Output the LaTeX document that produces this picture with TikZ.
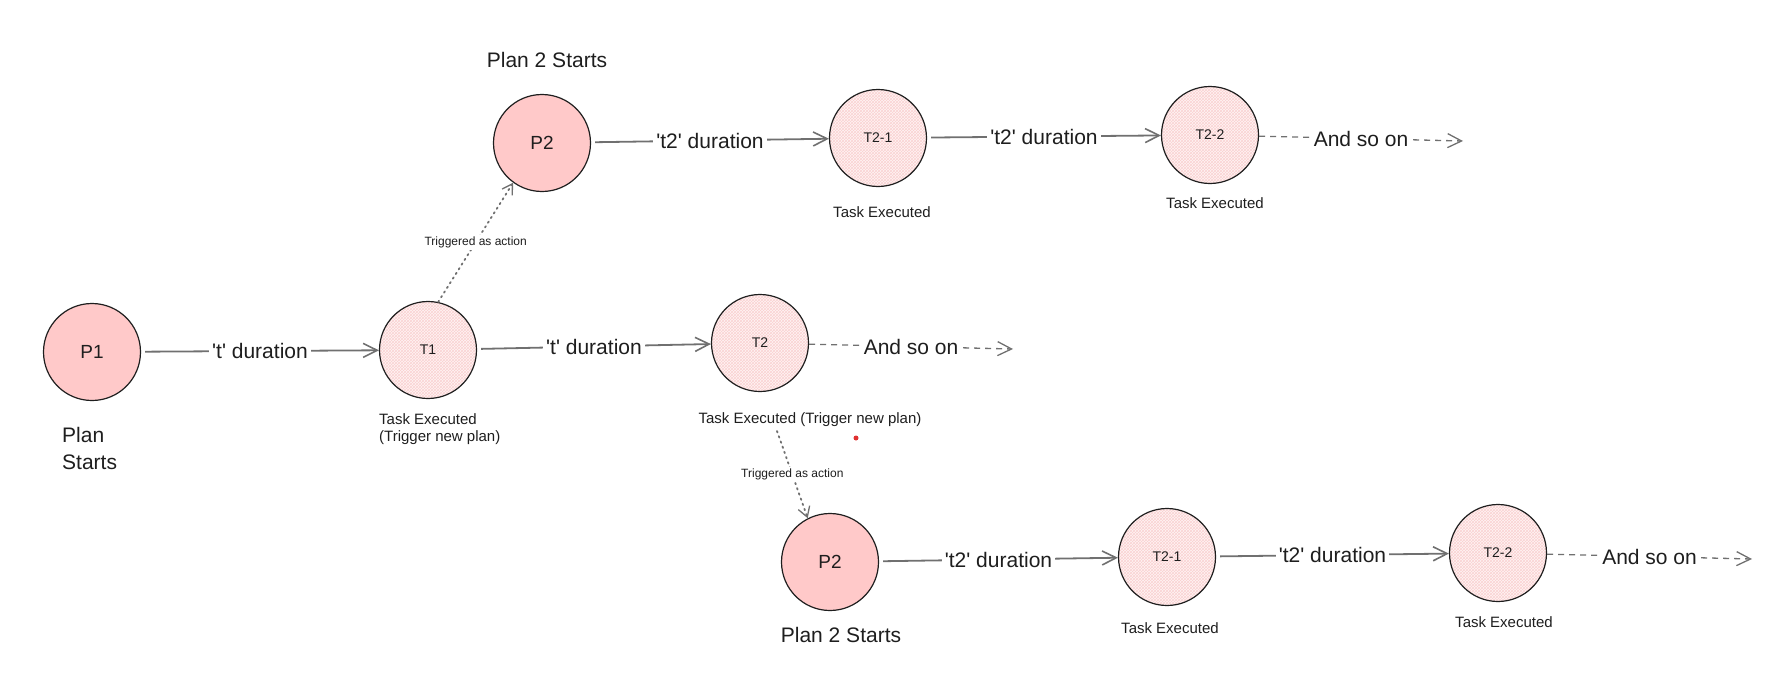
\documentclass[tikz,border=0pt]{standalone}
\usepackage{fontspec}
\setmainfont{Liberation Sans}
\usetikzlibrary{arrows.meta,patterns}
\definecolor{pfill}{HTML}{FFC9C9}
\definecolor{tfill}{HTML}{FFF4F4}
\definecolor{thatch}{HTML}{FAD2D2}
\definecolor{ink}{HTML}{1E1E1E}
\definecolor{arr}{HTML}{707070}
\definecolor{reddot}{HTML}{E03131}
\newcommand{\qq}{\textquotesingle}
\begin{document}
\begin{tikzpicture}[x=1pt,y=-1pt,
  pnode/.style={circle, draw=ink, line width=1.2pt, fill=pfill, minimum size=97pt, inner sep=0pt, font=\fontsize{19}{22}\selectfont, text=ink},
  tnode/.style={circle, draw=ink, line width=1.2pt, preaction={fill=tfill}, pattern=crosshatch, pattern color=thatch, minimum size=97pt, inner sep=0pt, font=\fontsize{14}{16}\selectfont, text=ink},
  conn/.style={draw=arr, line width=1.8pt, -{Straight Barb[length=14pt,width=14pt,line width=1.6pt]}, shorten <=4pt},
  dashconn/.style={draw=arr, line width=1.3pt, dash pattern=on 6pt off 5pt, -{Straight Barb[length=14pt,width=14pt,line width=1.3pt]}},
  dotconn/.style={draw=arr, line width=1.8pt, dash pattern=on 1.5pt off 4pt, line cap=round, -{Straight Barb[length=10pt,width=12pt,line width=1.3pt]}},
  lab/.style={fill=white, inner sep=3pt, font=\fontsize{21}{24}\selectfont, text=ink},
  smalllab/.style={fill=white, inner sep=2pt, font=\fontsize{12}{14}\selectfont, text=ink},
  caption/.style={font=\fontsize{15}{17}\selectfont, text=ink, inner sep=0pt},
  bigcaption/.style={font=\fontsize{21}{27}\selectfont, text=ink, inner sep=0pt},
]
\useasboundingbox (0,0) rectangle (1777,696);
% nodes
\node[pnode] (P1) at (92,352) {P1};
\node[tnode] (T1) at (428,350) {T1};
\node[tnode] (T2) at (760,343) {T2};
\node[pnode] (P2t) at (542,143) {P2};
\node[tnode] (T21t) at (878,138) {T2-1};
\node[tnode] (T22t) at (1210,135) {T2-2};
\node[pnode] (P2b) at (830,562) {P2};
\node[tnode] (T21b) at (1167,557) {T2-1};
\node[tnode] (T22b) at (1498,553) {T2-2};
% captions
\node[bigcaption, align=left, anchor=west] (cP1) at (62,448) {Plan\\Starts};
\node[caption, align=left, anchor=west] (cT1) at (379,429) {Task Executed\\(Trigger new plan)};
\node[caption] (cT2) at (810,420) {Task Executed (Trigger new plan)};
\node[bigcaption] (cP2t) at (547,60) {Plan 2 Starts};
\node[caption] (cT21t) at (882,212) {Task Executed};
\node[caption] (cT22t) at (1215,203) {Task Executed};
\node[bigcaption] (cP2b) at (841,635) {Plan 2 Starts};
\node[caption] (cT21b) at (1170,628) {Task Executed};
\node[caption] (cT22b) at (1504,622) {Task Executed};
% free ends
\coordinate (e1) at (1013,349);
\coordinate (e2) at (1463,141);
\coordinate (e3) at (1752,559);
\coordinate (d2s) at (777,431);
% connectors
\draw[conn] (P1) -- node[lab] {\qq t\qq{} duration} (T1);
\draw[conn] (T1) -- node[lab] {\qq t\qq{} duration} (T2);
\draw[conn] (P2t) -- node[lab] {\qq t2\qq{} duration} (T21t);
\draw[conn] (T21t) -- node[lab] {\qq t2\qq{} duration} (T22t);
\draw[conn] (P2b) -- node[lab] {\qq t2\qq{} duration} (T21b);
\draw[conn] (T21b) -- node[lab] {\qq t2\qq{} duration} (T22b);
\draw[dashconn] (T2) -- node[lab] {And so on} (e1);
\draw[dashconn] (T22t) -- node[lab] {And so on} (e2);
\draw[dashconn] (T22b) -- node[lab] {And so on} (e3);
\draw[dotconn] (T1.78) -- node[smalllab] {Triggered as action} (P2t.234);
\draw[dotconn] (d2s) -- node[smalllab] {Triggered as action} (P2b.117);
% stray dot
\fill[reddot] (856,438) circle (2.5pt);
\end{tikzpicture}
\end{document}
